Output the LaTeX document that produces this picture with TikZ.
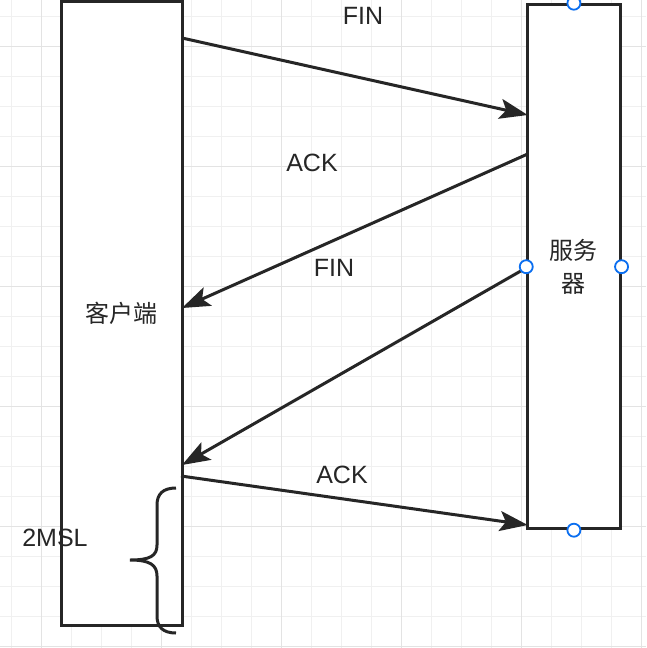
\documentclass[tikz,border=0pt]{standalone}
\usepackage{fontspec}
\setmainfont{Liberation Sans}
\newfontfamily\cjk{Noto Sans CJK SC}
\usetikzlibrary{arrows.meta}
\definecolor{ink}{HTML}{262626}
\definecolor{gridminor}{HTML}{F0F0F0}
\definecolor{gridmajor}{HTML}{E3E3E3}
\definecolor{handle}{RGB}{10,110,240}
\tikzset{
  box/.style={draw=ink, line width=3pt, fill=white, inner sep=0pt, text=ink},
  msg/.style={draw=ink, line width=3pt, -{Stealth[length=28pt,width=20pt,inset=6pt]}},
  lbl/.style={text=ink, font=\fontsize{25}{29}\selectfont, inner sep=0pt},
  hdl/.style={draw=handle, line width=1.8pt, fill=white, circle, minimum size=13pt, inner sep=0pt},
}
\begin{document}
\begin{tikzpicture}[x=1pt,y=-1pt]
\useasboundingbox (0,0) rectangle (646,648);
\fill[white] (0,0) rectangle (646,648);
% grid
\foreach \gx in {11,41,...,641} \draw[gridminor, line width=1pt] (\gx,0) -- (\gx,648);
\foreach \gy in {16.7,46.7,...,646.7} \draw[gridminor, line width=1pt] (0,\gy) -- (646,\gy);
\foreach \gx in {41,161,...,641} \draw[gridmajor, line width=1pt] (\gx,0) -- (\gx,648);
\foreach \gy in {46.7,166.7,...,646.7} \draw[gridmajor, line width=1pt] (0,\gy) -- (646,\gy);
% boxes
\node[box, minimum width=121pt, minimum height=624pt, font={\fontsize{24}{28}\selectfont\cjk}] (client) at (121.5,313) {客户端};
\node[box, minimum width=92.3pt, minimum height=524pt, align=center, font={\fontsize{24}{33}\selectfont\cjk}] (server) at (573.9,266.7) {服务\\器};
% endpoints on borders
\coordinate (c1) at (182,38);
\coordinate (s1) at (527.7,115);
\coordinate (s2) at (527.7,154);
\coordinate (c2) at (182,308);
\coordinate (s3) at (527.7,267);
\coordinate (c3) at (182,465);
\coordinate (c4) at (181,476);
\coordinate (s4) at (527.7,525);
\draw[msg] (c1) -- (s1);
\draw[msg] (s2) -- (c2);
\draw[msg] (s3) -- (c3);
\draw[msg] (c4) -- (s4);
% labels
\node[lbl] (l1) at (363,16) {FIN};
\node[lbl] (l2) at (312,163) {ACK};
\node[lbl] (l3) at (334,268) {FIN};
\node[lbl] (l4) at (342,475) {ACK};
\node[lbl] (l5) at (55,538) {2MSL};
% brace
\draw[ink, line width=3pt] (176,488) .. controls (163,488) and (157,494) .. (157,505) -- (157,545)
  .. controls (157,556) and (150,560) .. (130,560)
  .. controls (150,560) and (157,565) .. (157,576) -- (157,616)
  .. controls (157,627) and (163,633) .. (176,633);
% handles
\node[hdl] (h1) at (server.north) {};
\node[hdl] (h2) at (server.west) {};
\node[hdl] (h3) at (server.east) {};
\node[hdl] (h4) at (server.south) {};
\end{tikzpicture}
\end{document}
